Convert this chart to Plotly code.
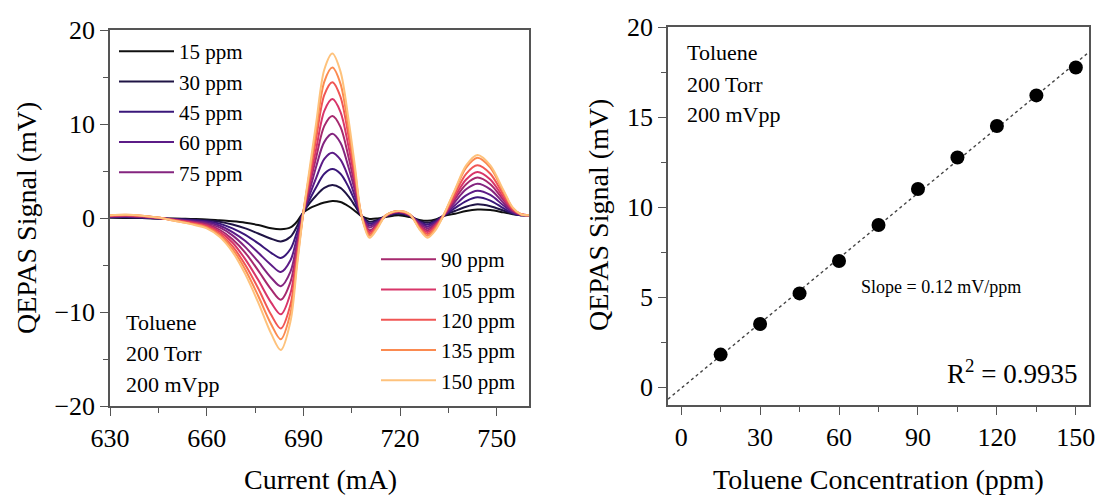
import numpy as np
import plotly.graph_objects as go

W, H = 1097, 498
FONT = "Liberation Serif"

# ---------------- Left panel data: QEPAS spectra ----------------
current_mA = [630, 635, 640, 645, 650, 655, 660, 664, 668, 672, 676, 680, 683, 686, 688, 690,
              692, 694, 696.5, 699, 701.5, 704, 706, 708, 710.5, 713, 715.5, 719.5, 723, 726,
              728.5, 731, 733.5, 737, 740.5, 744, 748, 752, 755, 757.5, 760]

sig_15 = [0.05, 0.0, 0.0, -0.05, -0.05, -0.1, -0.15, -0.25, -0.35, -0.5, -0.75, -1.1, -1.2, -1.0, -0.4, 0.6,
          1.05, 1.35, 1.65, 1.82, 1.7, 1.25, 0.75, 0.2, -0.1, -0.05, 0.1, 0.3, 0.1, -0.2,
          -0.3, -0.15, 0.2, 0.45, 0.75, 0.9, 0.85, 0.6, 0.4, 0.3, 0.3]
sig_30 = [0.05, 0.05, 0.0, -0.05, -0.1, -0.15, -0.25, -0.4, -0.7, -1.1, -1.65, -2.2, -2.5, -2.0, -0.9, 0.6,
          1.6, 2.4, 3.2, 3.5, 3.2, 2.3, 1.3, 0.25, -0.4, -0.2, 0.15, 0.45, 0.2, -0.3,
          -0.5, -0.25, 0.25, 0.75, 1.2, 1.45, 1.25, 0.8, 0.45, 0.3, 0.3]
sig_45 = [0.1, 0.1, 0.05, -0.05, -0.1, -0.2, -0.35, -0.6, -1.1, -1.8, -2.7, -3.7, -4.25, -3.3, -1.5, 0.6,
          2.0, 3.3, 4.7, 5.2, 4.7, 3.3, 1.8, 0.25, -0.6, -0.3, 0.2, 0.55, 0.25, -0.4,
          -0.7, -0.35, 0.25, 1.05, 1.8, 2.2, 1.85, 1.05, 0.5, 0.3, 0.3]
sig_60 = [0.1, 0.15, 0.1, 0.0, -0.15, -0.3, -0.45, -0.8, -1.5, -2.45, -3.7, -5.0, -5.75, -4.5, -2.1, 0.6,
          2.5, 4.3, 6.3, 6.95, 6.2, 4.3, 2.3, 0.25, -0.8, -0.4, 0.2, 0.6, 0.3, -0.5,
          -0.9, -0.45, 0.25, 1.35, 2.4, 2.9, 2.45, 1.35, 0.6, 0.35, 0.3]
sig_75 = [0.15, 0.2, 0.1, 0.0, -0.15, -0.35, -0.57, -1.0, -1.85, -3.1, -4.65, -6.35, -7.25, -5.7, -2.7, 0.6,
          3.0, 5.5, 8.1, 8.95, 8.0, 5.4, 2.9, 0.25, -1.0, -0.5, 0.2, 0.65, 0.3, -0.6,
          -1.1, -0.6, 0.25, 1.7, 3.05, 3.65, 3.05, 1.65, 0.7, 0.35, 0.3]
sig_90 = [0.2, 0.25, 0.15, 0.0, -0.2, -0.4, -0.7, -1.25, -2.25, -3.7, -5.6, -7.6, -8.7, -6.8, -3.2, 0.6,
          3.6, 6.5, 9.8, 10.85, 9.7, 6.5, 3.4, 0.25, -1.3, -0.65, 0.2, 0.7, 0.3, -0.75,
          -1.3, -0.7, 0.25, 2.0, 3.6, 4.3, 3.6, 1.95, 0.8, 0.35, 0.3]
sig_105 = [0.2, 0.3, 0.2, 0.0, -0.2, -0.45, -0.8, -1.45, -2.6, -4.4, -6.6, -9.0, -10.25, -8.0, -3.8, 0.6,
           4.0, 7.4, 11.4, 12.65, 11.3, 7.6, 4.0, 0.3, -1.5, -0.75, 0.25, 0.7, 0.35, -0.85,
           -1.5, -0.8, 0.25, 2.25, 4.1, 4.9, 4.1, 2.2, 0.85, 0.4, 0.3]
sig_120 = [0.25, 0.3, 0.2, 0.05, -0.25, -0.55, -0.92, -1.65, -3.0, -5.0, -7.5, -10.3, -11.75, -9.2, -4.3, 0.6,
           4.6, 8.5, 13.1, 14.45, 12.9, 8.7, 4.6, 0.3, -1.7, -0.85, 0.25, 0.75, 0.35, -1.0,
           -1.7, -0.95, 0.3, 2.55, 4.7, 5.6, 4.7, 2.5, 0.95, 0.4, 0.3]
sig_135 = [0.3, 0.35, 0.25, 0.05, -0.3, -0.6, -1.0, -1.85, -3.3, -5.5, -8.3, -11.3, -12.9, -10.1, -4.8, 0.6,
           5.0, 9.4, 14.5, 16.0, 14.3, 9.6, 5.0, 0.3, -1.9, -0.95, 0.25, 0.75, 0.4, -1.1,
           -1.9, -1.1, 0.3, 2.9, 5.35, 6.4, 5.35, 2.85, 1.05, 0.4, 0.3]
sig_150 = [0.3, 0.35, 0.25, 0.05, -0.3, -0.65, -1.1, -2.0, -3.6, -6.0, -9.0, -12.3, -14.05, -11.0, -5.2, 0.6,
           5.4, 10.2, 15.8, 17.5, 15.6, 10.5, 5.5, 0.3, -2.1, -1.1, 0.25, 0.75, 0.4, -1.2,
           -2.1, -1.3, 0.3, 3.0, 5.6, 6.7, 5.6, 3.0, 1.1, 0.4, 0.3]

series_labels = ["15 ppm", "30 ppm", "45 ppm", "60 ppm", "75 ppm",
                 "90 ppm", "105 ppm", "120 ppm", "135 ppm", "150 ppm"]
series_values = [sig_15, sig_30, sig_45, sig_60, sig_75, sig_90, sig_105, sig_120, sig_135, sig_150]
series_colors = ["#101010", "#1f1445", "#3a177a", "#5c1c87", "#84257f",
                 "#a6296e", "#d83569", "#f05654", "#fb8a50", "#fec27c"]

# ---------------- Right panel data: calibration ----------------
conc_ppm = [15, 30, 45, 60, 75, 90, 105, 120, 135, 150]
peak_mV = [1.8, 3.5, 5.2, 7.0, 9.0, 11.0, 12.75, 14.5, 16.2, 17.75]

x_ticks_left = [630, 660, 690, 720, 750]
y_ticks_left = [-20, -10, 0, 10, 20]
x_ticks_right = [0, 30, 60, 90, 120, 150]
y_ticks_right = [0, 5, 10, 15, 20]


def px(x):
    return x / W


def py(y):
    return 1 - y / H


fig = go.Figure()

for i, (lab, vals, col) in enumerate(zip(series_labels, series_values, series_colors)):
    fig.add_trace(go.Scatter(
        x=current_mA, y=vals, mode="lines", name=lab,
        line=dict(color=col, width=2, shape="spline", smoothing=0.9),
        xaxis="x", yaxis="y",
        legend="legend" if i < 5 else "legend2",
    ))

slope, intercept = np.polyfit(conc_ppm, peak_mV, 1)
fit_x = [-5, 155]
fit_y = [slope * v + intercept for v in fit_x]
fig.add_trace(go.Scatter(x=fit_x, y=fit_y, mode="lines", showlegend=False,
                         line=dict(color="#444444", width=1.4, dash="dot"),
                         xaxis="x2", yaxis="y2"))
fig.add_trace(go.Scatter(x=conc_ppm, y=peak_mV, mode="markers", showlegend=False,
                         marker=dict(color="black", size=14),
                         xaxis="x2", yaxis="y2"))

axis_common = dict(
    showline=True, linecolor="#555555", linewidth=1.5, mirror=True,
    ticks="outside", ticklen=8, tickwidth=1.3, tickcolor="#555555",
    showgrid=False, zeroline=False, automargin=False,
    tickfont=dict(family=FONT, size=26, color="black"),
)

fig.update_layout(
    width=W, height=H,
    margin=dict(l=0, r=0, t=0, b=0),
    paper_bgcolor="white", plot_bgcolor="white",
    font=dict(family=FONT, color="black"),
    xaxis=dict(domain=[px(110), px(529)], range=[630, 760], tickvals=x_ticks_left,
               minor=dict(ticks="outside", ticklen=5, tickcolor="#555555", dtick=15, tick0=630),
               anchor="y", **axis_common),
    yaxis=dict(domain=[py(406), py(30)], range=[-20, 20], tickvals=y_ticks_left,
               minor=dict(ticks="outside", ticklen=5, tickcolor="#555555", dtick=5, tick0=0),
               anchor="x", **axis_common),
    xaxis2=dict(domain=[px(668), px(1089)], range=[-5, 155], tickvals=x_ticks_right,
                minor=dict(ticks="outside", ticklen=5, tickcolor="#555555", dtick=15, tick0=0),
                anchor="y2", **axis_common),
    yaxis2=dict(domain=[py(405), py(27)], range=[-1, 20], tickvals=y_ticks_right,
                minor=dict(ticks="outside", ticklen=5, tickcolor="#555555", dtick=2.5, tick0=0),
                anchor="x2", **axis_common),
    legend=dict(x=px(114), y=py(31), xanchor="left", yanchor="top",
                bgcolor="rgba(0,0,0,0)", font=dict(family=FONT, size=21),
                itemwidth=55, tracegroupgap=0),
    legend2=dict(x=px(376), y=py(239), xanchor="left", yanchor="top",
                 bgcolor="rgba(0,0,0,0)", font=dict(family=FONT, size=21),
                 itemwidth=55, tracegroupgap=0),
)

ann = []
def text(x, y, s, size, xanchor="left", yanchor="middle", textangle=0):
    ann.append(dict(x=px(x), y=py(y), xref="paper", yref="paper", text=s, showarrow=False,
                    xanchor=xanchor, yanchor=yanchor, textangle=textangle,
                    font=dict(family=FONT, size=size, color="black")))

for j, s in enumerate(["Toluene", "200 Torr", "200 mVpp"]):
    text(124, 322 + 31 * j, s, 22)
    text(685, 53 + 31 * j, s, 22)

text(941, 287, "Slope = 0.12 mV/ppm", 18, xanchor="center")
text(1079, 372, "R<sup>2</sup> = 0.9935", 27, xanchor="right")
text(320, 497, "Current (mA)", 28, xanchor="center", yanchor="bottom")
text(878, 497, "Toluene Concentration (ppm)", 28, xanchor="center", yanchor="bottom")
text(26, 218, "QEPAS Signal (mV)", 28, xanchor="center", textangle=-90)
text(598, 215, "QEPAS Signal (mV)", 28, xanchor="center", textangle=-90)
fig.update_layout(annotations=ann)

fig.write_html("out.html")
